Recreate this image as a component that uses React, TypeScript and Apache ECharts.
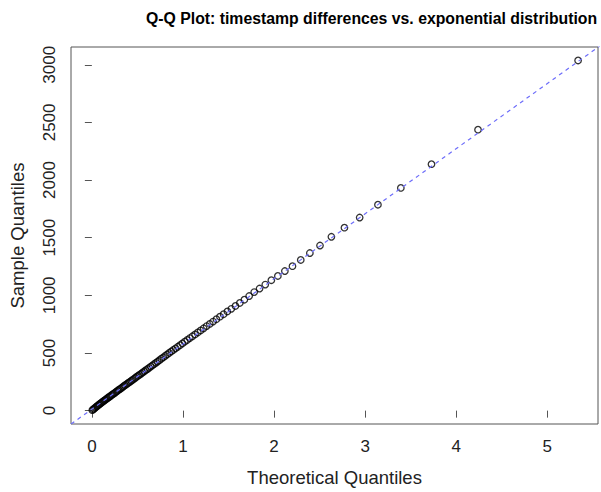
import React, { useEffect, useRef } from "react";
import * as echarts from "echarts";

// Theoretical quantiles (exponential)
const theoretical: number[] = [
  0.0048, 0.0145, 0.0244, 0.0343, 0.0442, 0.0543, 0.0645, 0.0749, 0.0853, 0.0958,
  0.1064, 0.1172, 0.1281, 0.1391, 0.1502, 0.1614, 0.1728, 0.1843, 0.1959, 0.2076,
  0.2196, 0.2316, 0.2438, 0.2562, 0.2686, 0.2813, 0.2941, 0.3071, 0.3203, 0.3336,
  0.3471, 0.3608, 0.3747, 0.3888, 0.4031, 0.4176, 0.4323, 0.4472, 0.4623, 0.4777,
  0.4934, 0.5092, 0.5254, 0.5418, 0.5584, 0.5754, 0.5926, 0.6102, 0.628, 0.6462,
  0.6647, 0.6836, 0.7028, 0.7224, 0.7424, 0.7628, 0.7837, 0.8049, 0.8267, 0.8489,
  0.8716, 0.8949, 0.9187, 0.9431, 0.9681, 0.9937, 1.0201, 1.0471, 1.0749, 1.1034,
  1.1329, 1.1632, 1.1944, 1.2267, 1.26, 1.2945, 1.3302, 1.3673, 1.4057, 1.4457,
  1.4874, 1.5309, 1.5763, 1.624, 1.674, 1.7266, 1.7822, 1.841, 1.9036, 1.9703,
  2.0417, 2.1187, 2.2021, 2.293, 2.3931, 2.5043, 2.6295, 2.7726, 2.9397, 3.1403,
  3.3916, 3.7281, 4.2389, 5.3375,
];

// Sample quantiles (timestamp differences)
const sample: number[] = [
  4, 10, 17, 24, 31, 37, 44, 50, 57, 63,
  70, 76, 83, 89, 96, 102, 109, 116, 122, 129,
  136, 143, 150, 157, 165, 172, 179, 187, 194, 202,
  210, 218, 226, 234, 242, 250, 259, 267, 276, 285,
  294, 303, 312, 321, 331, 341, 351, 361, 371, 382,
  393, 404, 415, 426, 438, 450, 462, 474, 487, 500,
  513, 526, 540, 554, 568, 583, 598, 613, 629, 645,
  661, 678, 696, 714, 733, 752, 772, 793, 815, 836,
  860, 883, 908, 934, 962, 994, 1028, 1059, 1093, 1131,
  1168, 1211, 1253, 1307, 1367, 1432, 1508, 1587, 1675, 1786,
  1932, 2138, 2437, 3037,
];

// Reference line (qqline) end points, extended past the plot box
const refLineX: number[] = [-0.3, 5.7];
const refLineY: number[] = [-157, 3233];

const xTicks: number[] = [0, 1, 2, 3, 4, 5];
const yTicks: number[] = [0, 500, 1000, 1500, 2000, 2500, 3000];

const FONT = "'Liberation Sans', Arial, Helvetica, sans-serif";

export default function App() {
  const ref = useRef<HTMLDivElement>(null);

  useEffect(() => {
    document.body.style.margin = "0";
    if (!ref.current) return;
    const chart = echarts.init(ref.current, null, { renderer: "svg" });

    const points = theoretical.map((x, i) => [x, sample[i]]);
    const line = refLineX.map((x, i) => [x, refLineY[i]]);

    chart.setOption({
      animation: false,
      backgroundColor: "#ffffff",
      title: {
        text: "Q-Q Plot: timestamp differences vs. exponential distribution",
        left: 141,
        top: 5,
        textStyle: {
          fontFamily: FONT,
          fontWeight: "bold",
          fontSize: 15.8,
          color: "#000",
        },
      },
      grid: {
        left: 67,
        right: 3,
        top: 47,
        bottom: 63,
        show: true,
        borderColor: "#555",
        borderWidth: 1,
        backgroundColor: "transparent",
      },
      xAxis: {
        type: "value",
        min: -0.229,
        max: 5.556,
        name: "Theoretical Quantiles",
        nameLocation: "middle",
        nameGap: 44,
        nameTextStyle: { fontFamily: FONT, fontSize: 18.5, color: "#222" },
        axisLine: { show: false },
        splitLine: { show: false },
        axisTick: {
          show: true,
          length: 7,
          customValues: xTicks,
          lineStyle: { color: "#555" },
        },
        axisLabel: {
          customValues: xTicks,
          margin: 14,
          fontFamily: FONT,
          fontSize: 17,
          color: "#222",
          formatter: (v: number) => String(v),
        },
      },
      yAxis: {
        type: "value",
        min: -116,
        max: 3154,
        name: "Sample Quantiles",
        nameLocation: "middle",
        nameRotate: 90,
        nameGap: 44,
        nameTextStyle: { fontFamily: FONT, fontSize: 18.5, color: "#222" },
        axisLine: { show: false },
        splitLine: { show: false },
        axisTick: {
          show: true,
          length: 7,
          customValues: yTicks,
          lineStyle: { color: "#555" },
        },
        axisLabel: {
          customValues: yTicks,
          rotate: 90,
          margin: 13,
          fontFamily: FONT,
          fontSize: 17,
          color: "#222",
          formatter: (v: number) => String(v),
        },
      },
      series: [
        {
          type: "scatter",
          data: points,
          symbol: "circle",
          symbolSize: 6.5,
          itemStyle: {
            color: "rgba(0,0,0,0)",
            borderColor: "#000",
            borderWidth: 1.3,
          },
          z: 2,
        },
        {
          type: "line",
          data: line,
          showSymbol: false,
          clip: true,
          lineStyle: {
            color: "#6d6dfa",
            width: 1.2,
            type: [4, 4],
          },
          z: 3,
        },
      ],
    });

    return () => chart.dispose();
  }, []);

  return <div ref={ref} style={{ width: 601, height: 492 }} />;
}
